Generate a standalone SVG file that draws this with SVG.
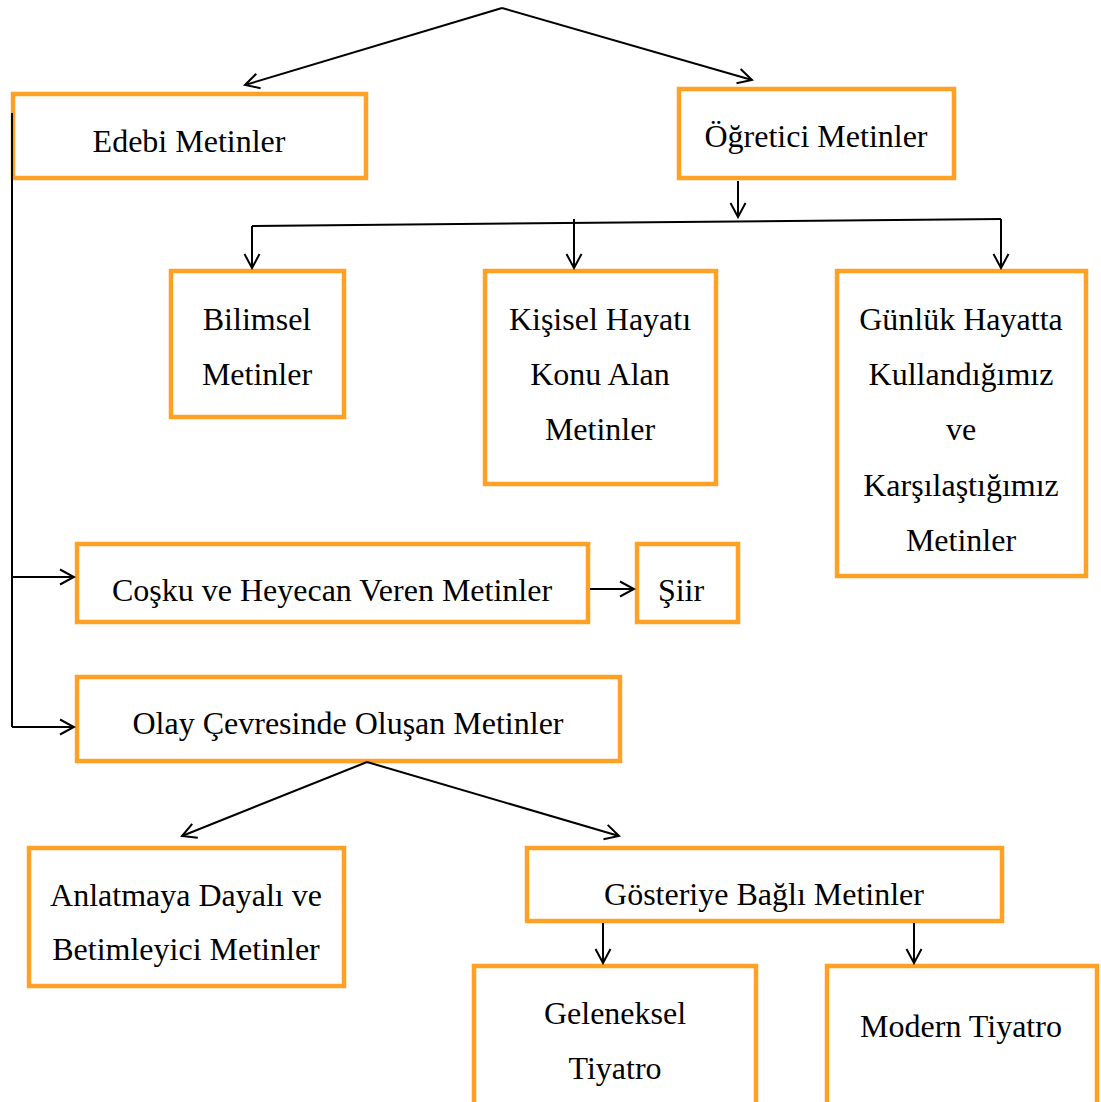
<svg xmlns="http://www.w3.org/2000/svg" width="1101" height="1102" viewBox="0 0 1101 1102">
<style>
.box{fill:#fff;stroke:#FFA124;stroke-width:4.5}
.t{font-family:"Liberation Serif","Times New Roman",serif;font-size:32px;fill:#000;text-anchor:middle}
.c{fill:none;stroke:#000;stroke-width:2;marker-end:url(#ah)}
.l{fill:none;stroke:#000;stroke-width:2}
</style>
<defs>
<marker id="ah" viewBox="0 0 18 18" refX="16" refY="9" markerWidth="18" markerHeight="18" markerUnits="userSpaceOnUse" orient="auto">
<path d="M2,1.5 L16,9 L2,16.5" fill="none" stroke="#000" stroke-width="2"/>
</marker>
</defs>
<rect width="1101" height="1102" fill="#fff"/>
<g id="edebi"><rect class="box" x="13" y="94" width="353" height="84"/><text class="t" x="189" y="152">Edebi Metinler</text></g>
<g id="ogretici"><rect class="box" x="679" y="89" width="275" height="89"/><text class="t" x="816" y="147">Öğretici Metinler</text></g>
<g id="bilimsel"><rect class="box" x="171" y="271" width="173" height="146"/><text class="t" x="257" y="330">Bilimsel</text><text class="t" x="257" y="385">Metinler</text></g>
<g id="kisisel"><rect class="box" x="485" y="271" width="231" height="213"/><text class="t" x="600" y="330">Kişisel Hayatı</text><text class="t" x="600" y="385">Konu Alan</text><text class="t" x="600" y="440">Metinler</text></g>
<g id="gunluk"><rect class="box" x="837" y="271" width="249" height="305"/><text class="t" x="961" y="330">Günlük Hayatta</text><text class="t" x="961" y="385">Kullandığımız</text><text class="t" x="961" y="440">ve</text><text class="t" x="961" y="496">Karşılaştığımız</text><text class="t" x="961" y="551">Metinler</text></g>
<g id="cosku"><rect class="box" x="77" y="544" width="511" height="78"/><text class="t" x="332" y="601">Coşku ve Heyecan Veren Metinler</text></g>
<g id="siir"><rect class="box" x="637" y="544" width="101" height="78"/><text class="t" x="681" y="601">Şiir</text></g>
<g id="olay"><rect class="box" x="77" y="677" width="543" height="84"/><text class="t" x="348" y="734">Olay Çevresinde Oluşan Metinler</text></g>
<g id="anlatmaya"><rect class="box" x="29" y="848" width="315" height="138"/><text class="t" x="186" y="906">Anlatmaya Dayalı ve</text><text class="t" x="186" y="960">Betimleyici Metinler</text></g>
<g id="gosteriye"><rect class="box" x="527" y="848" width="475" height="73"/><text class="t" x="764" y="905">Gösteriye Bağlı Metinler</text></g>
<g id="geleneksel"><rect class="box" x="474" y="966" width="282" height="140"/><text class="t" x="615" y="1024">Geleneksel</text><text class="t" x="615" y="1079">Tiyatro</text></g>
<g id="modern"><rect class="box" x="827" y="966" width="270" height="140"/><text class="t" x="961" y="1037">Modern Tiyatro</text></g>
<g id="connectors">
<path class="c" d="M502,8 L245,85"/>
<path class="c" d="M502,8 L752,80"/>
<path class="c" d="M738,181 L738,217"/>
<path class="l" d="M252,226 L1001,219"/>
<path class="c" d="M252,226 L252,268"/>
<path class="c" d="M574,219 L574,268"/>
<path class="c" d="M1001,219 L1001,268"/>
<path class="l" d="M12,113 L12,727"/>
<path class="c" d="M12,577 L74,577"/>
<path class="c" d="M12,727 L74,727"/>
<path class="c" d="M590,589 L634,589"/>
<path class="c" d="M367,762 L182,836"/>
<path class="c" d="M367,762 L619,836"/>
<path class="c" d="M603,923 L603,963"/>
<path class="c" d="M914,923 L914,963"/>
</g>
</svg>
